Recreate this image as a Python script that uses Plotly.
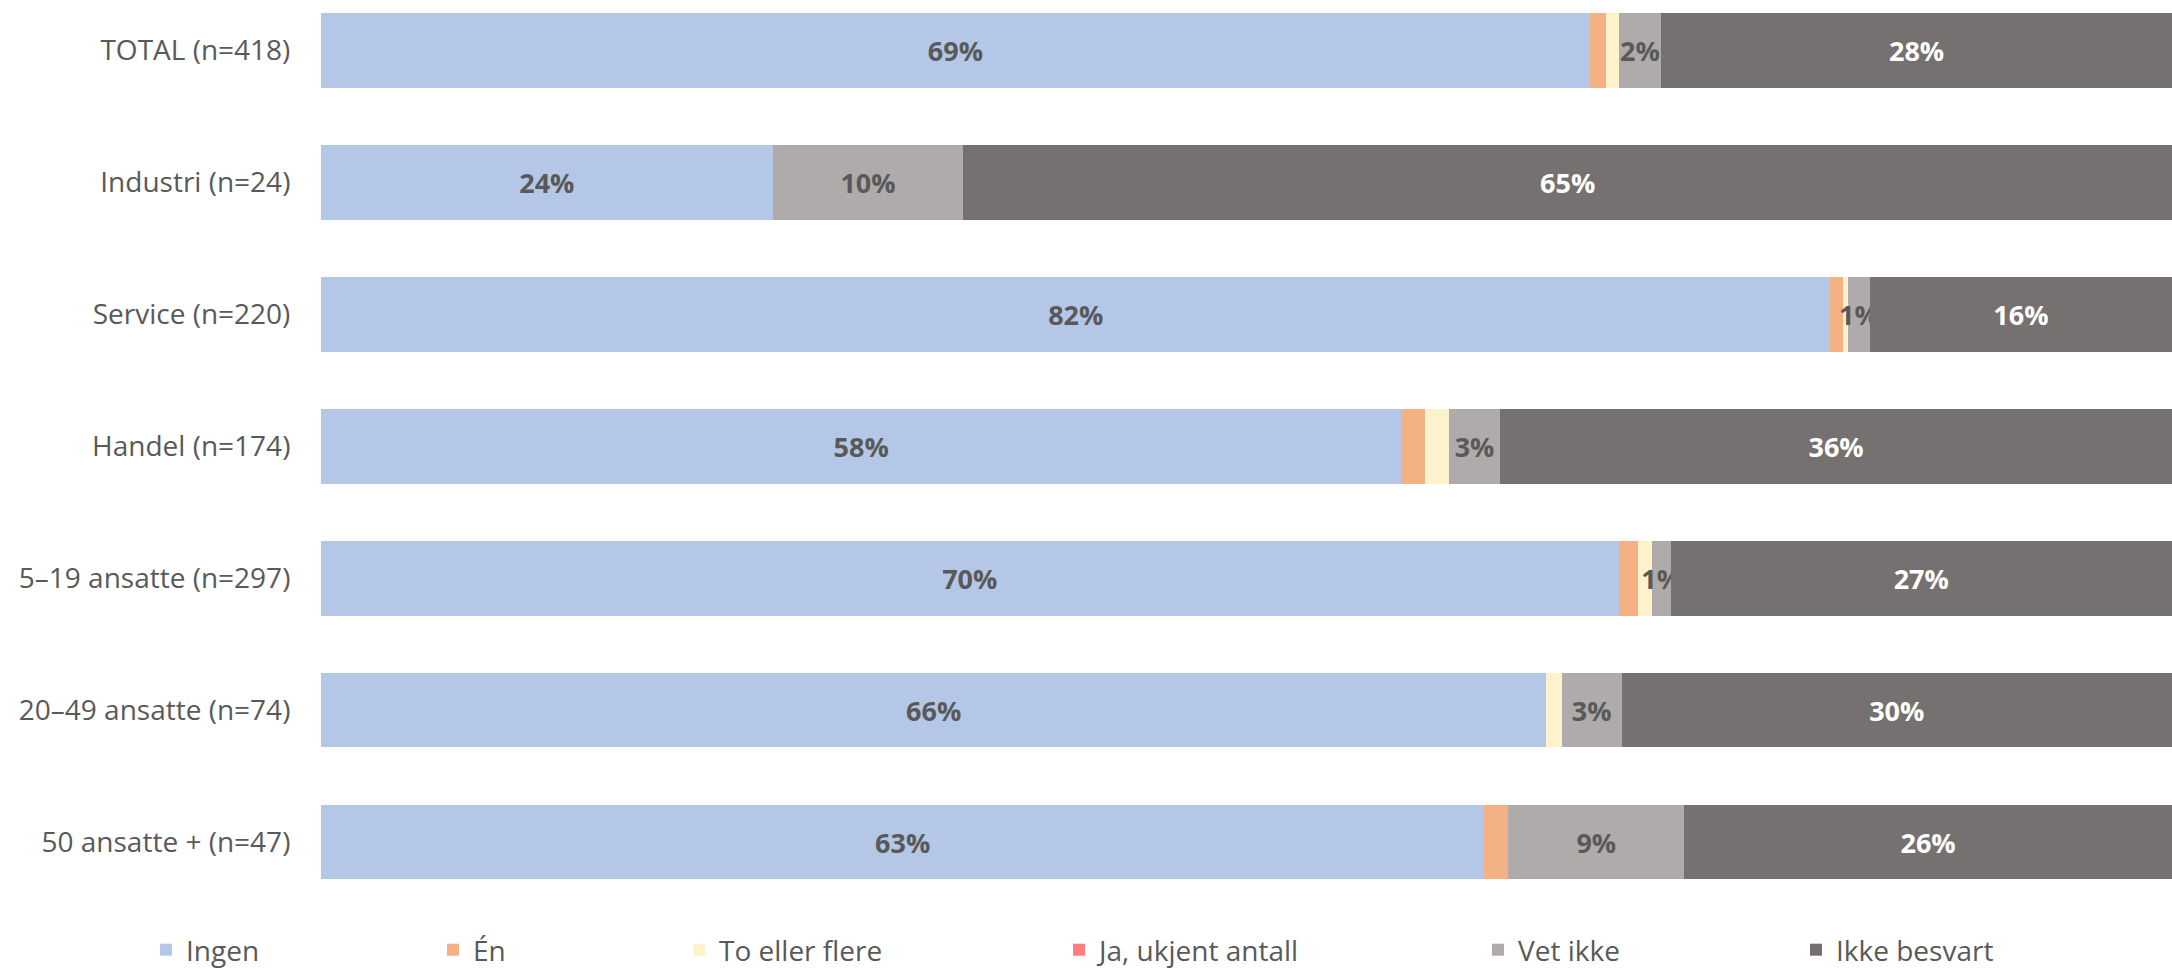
import plotly.graph_objects as go

categories = ["TOTAL (n=418)", "Industri (n=24)", "Service (n=220)", "Handel (n=174)",
              "5–19 ansatte (n=297)", "20–49 ansatte (n=74)", "50 ansatte + (n=47)"]

ingen = [68.55, 24.4, 81.55, 58.36, 70.1, 66.2, 62.85]
en = [0.85, 0.0, 0.66, 1.28, 1.04, 0.0, 1.30]
to_eller_flere = [0.70, 0.0, 0.28, 1.30, 0.74, 0.82, 0.0]
ja_ukjent = [0, 0, 0, 0, 0, 0, 0]
vet_ikke = [2.30, 10.3, 1.19, 2.76, 1.04, 3.26, 9.49]
ikke_besvart = [27.6, 65.3, 16.32, 36.3, 27.07, 29.7, 26.36]

series = [
    ("Ingen", ingen, "#B4C7E7", True, "#595959"),
    ("Én", en, "#F4B183", False, None),
    ("To eller flere", to_eller_flere, "#FFF2CC", False, None),
    ("Ja, ukjent antall", ja_ukjent, "#FF7C80", False, None),
    ("Vet ikke", vet_ikke, "#AFABAB", True, "#595959"),
    ("Ikke besvart", ikke_besvart, "#757171", True, "#FFFFFF"),
]

# legend square left edges (px) in the reference
legend_px = [160, 447, 693, 1073, 1492, 1810]

W, H = 2172, 969
ML, MR, MT, MB = 321, 0, 0, 61
plot_w = W - ML - MR
plot_h = H - MT - MB

fig = go.Figure()
legend_layouts = {}
for i, (name, vals, color, show_lbl, lblcol) in enumerate(series):
    lname = "legend" if i == 0 else f"legend{i+1}"
    kw = {}
    if show_lbl:
        kw = dict(texttemplate="%{x:.0f}%", textposition="inside", insidetextanchor="middle",
                  textangle=0, constraintext="none",
                  insidetextfont=dict(family="Open Sans", size=27, color=lblcol, weight="bold"))
    fig.add_trace(go.Bar(
        name=name, y=categories, x=vals, orientation="h",
        marker=dict(color=color, line=dict(width=0)),
        legend=lname, hoverinfo="skip", **kw))
    legend_layouts[lname] = dict(
        x=(legend_px[i] - 14 - ML) / plot_w, xanchor="left",
        yref="container", y=(H - 950) / H, yanchor="middle",
        orientation="h", bgcolor="rgba(0,0,0,0)", borderwidth=0,
        font=dict(family="Open Sans", size=28, color="#595959"))

fig.update_layout(
    width=W, height=H,
    margin=dict(l=ML, r=MR, t=MT, b=MB),
    barmode="stack", bargap=0.432,
    plot_bgcolor="white", paper_bgcolor="white",
    showlegend=True,
    xaxis=dict(range=[0, 100], visible=False, fixedrange=True),
    yaxis=dict(type="category", categoryorder="array", categoryarray=categories,
               range=[6.5, -0.379], showgrid=False, zeroline=False, showline=False,
               ticks="outside", ticklen=24, tickcolor="rgba(0,0,0,0)",
               tickfont=dict(family="Open Sans", size=28, color="#595959")),
    **legend_layouts,
)

fig.write_html("out.html", config={"displayModeBar": False},
               post_script="document.body.style.margin='0';document.body.style.overflow='hidden';")
